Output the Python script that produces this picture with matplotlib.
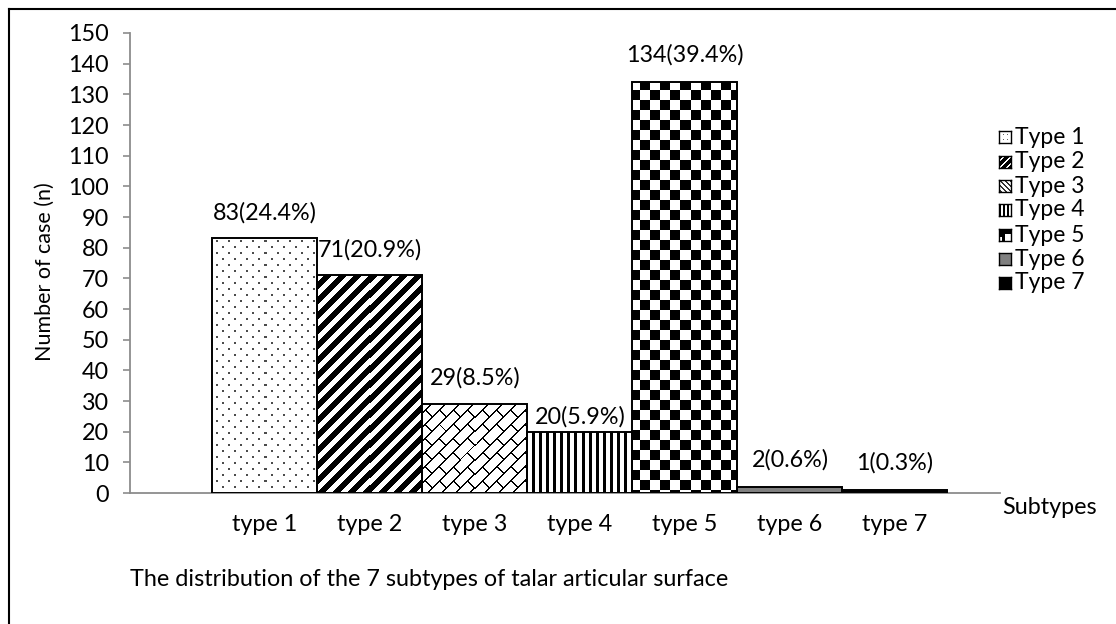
import numpy as np
import matplotlib
matplotlib.use('Agg')
import matplotlib.pyplot as plt
from matplotlib.lines import Line2D

# ---------------- data ----------------
categories = ['type 1', 'type 2', 'type 3', 'type 4', 'type 5', 'type 6', 'type 7']
legend_labels = ['Type 1', 'Type 2', 'Type 3', 'Type 4', 'Type 5', 'Type 6', 'Type 7']
counts = [83, 71, 29, 20, 134, 2, 1]
percents = [24.4, 20.9, 8.5, 5.9, 39.4, 0.6, 0.3]
y_ticks = list(range(0, 151, 10))
x_title = 'Subtypes'
y_title = 'Number of case (n)'
caption = 'The distribution of the 7 subtypes of talar articular surface'

# ---------------- style ----------------
W, H = 1116, 624
plt.rcParams['font.family'] = ['Lato', 'DejaVu Sans']
FS = 16.8
AXIS_GRAY = '#8c8c8c'
label_offsets = [26, 25, 26, 15, 27, 27, 27]  # pixels above bar top


def pat_dots(X, Y):
    img = np.ones_like(X)
    p = 12.0
    a = ((X % p) < 2) & ((Y % p) < 2)
    b = (((X + p / 2) % p) < 2) & (((Y + p / 2) % p) < 2)
    img[a | b] = 0.3
    return img


def pat_diag(X, Y):
    P = 15.0
    return np.where(((X + Y) % P) < P / 2, 0.0, 1.0)


def pat_brick(X, Y):
    Hh, L, lw = 10.0, 20.0, 1.4
    v = (X + Y) / np.sqrt(2)
    u = (X - Y) / np.sqrt(2)
    r = np.floor(v / Hh)
    line = (v % Hh) < lw
    seg = ((u + (r % 2) * L / 2) % L) < lw
    return np.where(line | seg, 0.0, 1.0)


def pat_vert(X, Y):
    P = 7.0
    return np.where((X % P) < 3.5, 0.0, 1.0)


def pat_check(X, Y):
    S = 10.0
    return np.where(((np.floor(X / S) + np.floor(Y / S)) % 2) == 0, 0.0, 1.0)


def pat_gray(X, Y):
    return np.full_like(X, 0.5)


def pat_black(X, Y):
    return np.zeros_like(X)


patterns = [pat_dots, pat_diag, pat_brick, pat_vert, pat_check, pat_gray, pat_black]

fig = plt.figure(figsize=(W / 100, H / 100), dpi=100)
ax = fig.add_axes([130 / W, 1 - 493 / H, 870 / W, 460 / H])

x = np.arange(len(categories))
bars = ax.bar(x, counts, width=1.0, facecolor='none', edgecolor='black',
              linewidth=1.4, zorder=3)
ax.set_xlim(-1.281, 7.0)
ax.set_ylim(0, 150)
ax.set_yticks(y_ticks)
ax.set_xticks(x)
ax.set_xticklabels(categories)

# pattern fills (pixel-exact images clipped to the bars)
for bar, pf in zip(bars, patterns):
    x0, w, h = bar.get_x(), bar.get_width(), bar.get_height()
    (px0, py0), (px1, py1) = ax.transData.transform([(x0, 0), (x0 + w, h)])
    ncol = max(1, int(round(px1 - px0)))
    nrow = max(1, int(round(py1 - py0)))
    cx = px0 + (np.arange(ncol) + 0.5) * (px1 - px0) / ncol
    cy = (H - py1) + (np.arange(nrow) + 0.5) * (py1 - py0) / nrow
    XX, YY = np.meshgrid(cx, cy)
    img = pf(XX, YY)
    im = ax.imshow(img, cmap='gray', vmin=0, vmax=1, interpolation='nearest',
                   extent=[x0, x0 + w, 0, h], aspect='auto', zorder=2)
    im.set_clip_path(bar)

ax.set_xlim(-1.281, 7.0)
ax.set_ylim(0, 150)

for xi, c, p, off in zip(x, counts, percents, label_offsets):
    ax.annotate(f'{c}({p}%)', xy=(xi, c), xytext=(0, off), textcoords='offset pixels',
                ha='center', va='center', fontsize=FS, color='black', zorder=5)

for s in ['top', 'right']:
    ax.spines[s].set_visible(False)
for s in ['left', 'bottom']:
    ax.spines[s].set_color(AXIS_GRAY)
    ax.spines[s].set_linewidth(1.3)
ax.tick_params(axis='y', length=5, width=1.2, color=AXIS_GRAY, pad=10, labelsize=FS)
ax.tick_params(axis='x', length=0, pad=15, labelsize=FS)

# texts
fig.text(45 / W, 1 - 272 / H, y_title, rotation=90, ha='center', va='center', fontsize=FS - 1.3)
fig.text(1050 / W, 1 - 508 / H, x_title, ha='center', va='center', fontsize=FS)
fig.text(130 / W, 1 - 579 / H, caption, ha='left', va='center', fontsize=FS)

# legend (manual)
leg_y = [137, 162, 186, 210, 235, 259, 283]
for lab, pf, yc in zip(legend_labels, patterns, leg_y):
    n = 12
    lx0, ly_top = 999, yc - 6
    cx = np.arange(n) + 0.5
    XX, YY = np.meshgrid(cx, cx)
    if pf is pat_check:
        img = np.where((XX > 6) & (YY > 6), 1.0, 0.0)
        img[(XX < 3) & (YY > 8)] = 1.0
    elif pf is pat_dots:
        img = np.where(((XX % 4) < 1.5) & ((YY % 4) < 1.5), 0.4, 1.0)
    elif pf is pat_diag:
        img = np.where(((XX + YY) % 7) < 4.5, 0.0, 1.0)
    elif pf is pat_brick:
        img = np.where(((XX - YY) % 5) < 1.2, 0.2, 1.0)
    elif pf is pat_vert:
        img = np.where((XX % 4) < 2, 0.0, 1.0)
    else:
        img = pf(XX, YY)
    ax_l = fig.add_axes([lx0 / W, 1 - (ly_top + n) / H, n / W, n / H])
    ax_l.imshow(img, cmap='gray', vmin=0, vmax=1, interpolation='nearest', aspect='auto')
    ax_l.set_xticks([])
    ax_l.set_yticks([])
    for s in ax_l.spines.values():
        s.set_color('black')
        s.set_linewidth(1.0)
    fig.text(1015 / W, 1 - yc / H, lab, ha='left', va='center', fontsize=FS - 0.3)

# outer frame (left and top edges visible)
fig.add_artist(Line2D([9 / W, 9 / W], [0, 1 - 9 / H], transform=fig.transFigure,
                      color='black', linewidth=1.5))
fig.add_artist(Line2D([9 / W, 1], [1 - 9 / H, 1 - 9 / H], transform=fig.transFigure,
                      color='black', linewidth=1.5))

fig.savefig('out.png', dpi=100, facecolor='white')
